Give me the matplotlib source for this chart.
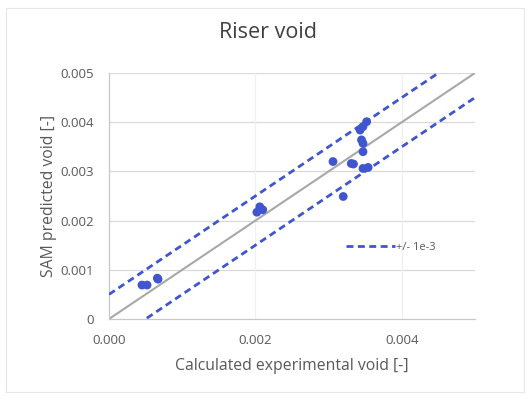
import matplotlib
matplotlib.use("Agg")
import matplotlib.pyplot as plt
from matplotlib.patches import Rectangle
import numpy as np

# Experimental vs. predicted riser void
exp_void = [0.00045, 0.00052, 0.00067, 0.00066, 0.00202, 0.00206, 0.00210,
            0.00306, 0.00320, 0.00331, 0.00334, 0.00343, 0.00345, 0.00347,
            0.00347, 0.00347, 0.00347, 0.00352, 0.00354]
sam_void = [0.00069, 0.00069, 0.00081, 0.00083, 0.00217, 0.00228, 0.00222,
            0.00320, 0.00249, 0.00316, 0.00315, 0.00384, 0.00364, 0.00357,
            0.00340, 0.00306, 0.00391, 0.00401, 0.00308]

band = 0.0005
axis_max = 0.005
x_ticks = [0.000, 0.002, 0.004]
x_tick_labels = ["0.000", "0.002", "0.004"]
y_ticks = [0, 0.001, 0.002, 0.003, 0.004, 0.005]
y_tick_labels = ["0", "0.001", "0.002", "0.003", "0.004", "0.005"]

plt.rcParams['font.family'] = ['Open Sans', 'DejaVu Sans']
text_col = "#595959"
blue = "#3f56cf"

fig = plt.figure(figsize=(5.31, 4.01), dpi=100)
fig.patch.set_facecolor("white")
fig.patches.append(Rectangle((0.012, 0.022), 0.974, 0.958, transform=fig.transFigure,
                             fill=False, edgecolor="#e6e6e6", linewidth=0.8))

ax = fig.add_axes([0.2053, 0.2045, 0.6892, 0.6135])
ax.set_xlim(0, axis_max)
ax.set_ylim(0, axis_max)

# gridlines
for yv in y_ticks[1:]:
    ax.axhline(yv, color="#d9d9d9", lw=0.9, zorder=0)
for xv in x_ticks[1:]:
    ax.axvline(xv, color="#f0f0f0", lw=0.9, zorder=0)

xs = np.array([0, axis_max])
ax.plot(xs, xs, color="#a8a8a8", lw=1.5, zorder=2)
ax.plot(xs, xs + band, color=blue, lw=2.0, linestyle=(0, (2.5, 1.6)), zorder=3,
        label="+/- 1e-3")
ax.plot(xs, xs - band, color=blue, lw=2.0, linestyle=(0, (2.5, 1.6)), zorder=3)

ax.scatter(exp_void, sam_void, s=40, color=blue, edgecolors="none", zorder=4)

for side in ["top", "right"]:
    ax.spines[side].set_visible(False)
for side in ["left", "bottom"]:
    ax.spines[side].set_color("#c8c8c8")
    ax.spines[side].set_linewidth(0.9)

ax.set_xticks(x_ticks)
ax.set_xticklabels(x_tick_labels)
ax.set_yticks(y_ticks)
ax.set_yticklabels(y_tick_labels)
ax.tick_params(length=0, labelsize=9.5, colors=text_col)
ax.tick_params(axis="x", pad=11)
ax.tick_params(axis="y", pad=11)

ax.set_xlabel("Calculated experimental void [-]", fontsize=11.3, color=text_col, labelpad=8)
ax.set_ylabel("SAM predicted void [-]", fontsize=11.3, color=text_col, labelpad=2)
fig.text(0.505, 0.918, "Riser void", fontsize=15.5, color="#404040",
         ha="center", va="center")

ax.legend(loc="center left", bbox_to_anchor=(0.62, 0.29), frameon=False,
          fontsize=8, labelcolor=text_col, handlelength=4.4, handletextpad=0.1)

fig.savefig("out.png", dpi=100, facecolor="white")
